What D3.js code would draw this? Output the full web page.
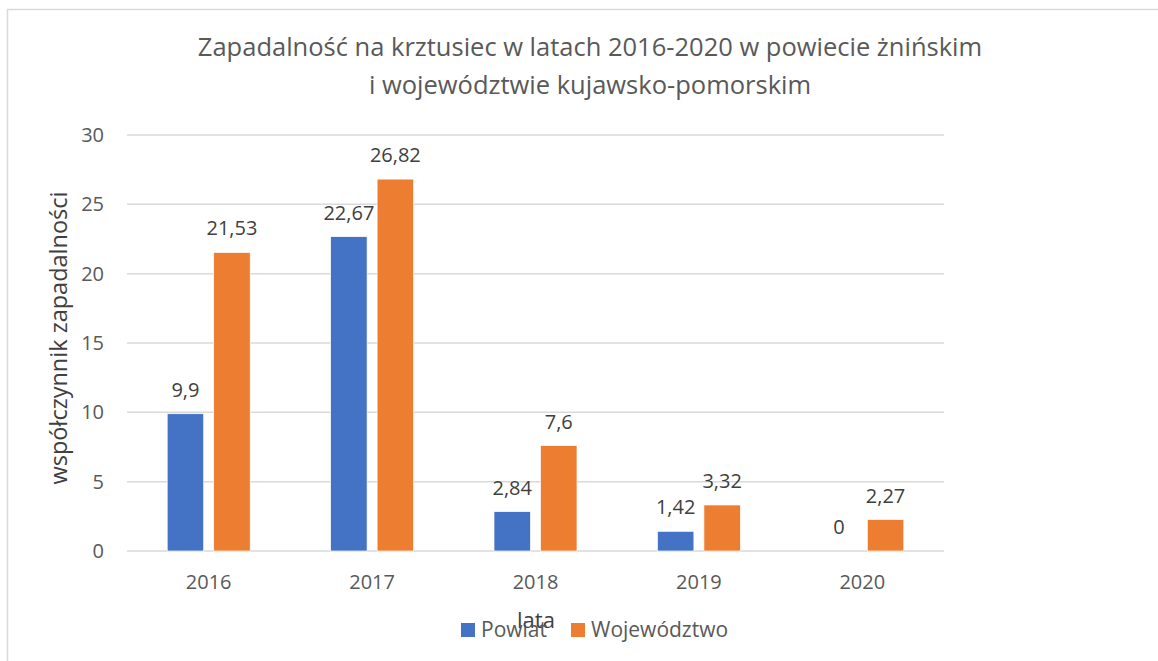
<!DOCTYPE html>
<html>
<head>
<meta charset="utf-8">
<script src="https://cdn.jsdelivr.net/npm/d3@7"></script>
<style>
    body { margin: 0; background: #fff; }
    text { font-family: "Open Sans", "Liberation Sans", sans-serif; }
</style>
</head>
<body>
<div id="chart"></div>
<script>
var years = ["2016", "2017", "2018", "2019", "2020"];
var seriesNames = ["Powiat", "Województwo"];
var powiat = [9.9, 22.67, 2.84, 1.42, 0];
var wojewodztwo = [21.53, 26.82, 7.6, 3.32, 2.27];
var yTicks = [0, 5, 10, 15, 20, 25, 30];
var colors = ["#4472C4", "#ED7D31"];

(() => {
    var width = 1158;
    var height = 661;
    var margin = { top: 135, right: 214, bottom: 110, left: 127 };

    var svg = d3.select("#chart")
        .append("svg")
        .attr("width", width)
        .attr("height", height);

    svg.append("rect")
        .attr("width", width)
        .attr("height", height)
        .attr("fill", "#fff");

    // chart frame (only top and left are visible)
    svg.append("path")
        .attr("d", "M7.5," + height + "V9.5H" + width)
        .attr("fill", "none")
        .attr("stroke", "#d9d9d9")
        .attr("stroke-width", 1.5);

    var data = years.map(function (y, i) {
        return { year: y, values: [powiat[i], wojewodztwo[i]] };
    });

    var xScale = d3.scaleBand()
        .domain(years)
        .range([margin.left, width - margin.right])
        .paddingInner(0.492)
        .paddingOuter(0.246);

    var xSub = d3.scaleBand()
        .domain(seriesNames)
        .range([0, xScale.bandwidth()])
        .paddingInner(0.215);

    var yScale = d3.scaleLinear()
        .domain([0, 30])
        .range([height - margin.bottom, margin.top]);

    // gridlines
    svg.append("g")
        .selectAll("line")
        .data(yTicks)
        .join("line")
        .attr("x1", margin.left)
        .attr("x2", width - margin.right)
        .attr("y1", function (d) { return yScale(d); })
        .attr("y2", function (d) { return yScale(d); })
        .attr("stroke", "#d9d9d9")
        .attr("stroke-width", 1.5);

    // y tick labels
    svg.append("g")
        .selectAll("text")
        .data(yTicks)
        .join("text")
        .attr("x", 104)
        .attr("y", function (d) { return yScale(d) + 7; })
        .attr("text-anchor", "end")
        .attr("font-size", "20px")
        .attr("fill", "#595959")
        .text(function (d) { return d; });

    // bars
    var groups = svg.append("g")
        .selectAll("g")
        .data(data)
        .join("g")
        .attr("transform", function (d) { return "translate(" + xScale(d.year) + ",0)"; });

    groups.selectAll("rect")
        .data(function (d) { return d.values; })
        .join("rect")
        .attr("x", function (d, i) { return xSub(seriesNames[i]); })
        .attr("y", function (d) { return yScale(d); })
        .attr("width", xSub.bandwidth())
        .attr("height", function (d) { return yScale(0) - yScale(d); })
        .attr("fill", function (d, i) { return colors[i]; })
        .attr("stroke", "#fff")
        .attr("stroke-width", 0.7);

    // data labels
    groups.selectAll("text")
        .data(function (d) { return d.values; })
        .join("text")
        .attr("x", function (d, i) { return xSub(seriesNames[i]) + xSub.bandwidth() / 2; })
        .attr("y", function (d) { return yScale(d) - 17; })
        .attr("text-anchor", "middle")
        .attr("font-size", "20px")
        .attr("fill", "#404040")
        .text(function (d) { return String(d).replace(".", ","); });

    // category labels
    svg.append("g")
        .selectAll("text")
        .data(years)
        .join("text")
        .attr("x", function (d) { return xScale(d) + xScale.bandwidth() / 2; })
        .attr("y", yScale(0) + 38)
        .attr("text-anchor", "middle")
        .attr("font-size", "20px")
        .attr("fill", "#595959")
        .text(function (d) { return d; });

    // title
    var title = svg.append("text")
        .attr("text-anchor", "middle")
        .attr("font-size", "25.5px")
        .attr("fill", "#595959");
    title.append("tspan")
        .attr("x", 590)
        .attr("y", 56)
        .text("Zapadalność na krztusiec w latach 2016-2020 w powiecie żnińskim");
    title.append("tspan")
        .attr("x", 590)
        .attr("y", 94)
        .text("i województwie kujawsko-pomorskim");

    // axis titles
    svg.append("text")
        .attr("transform", "translate(67,338) rotate(-90)")
        .attr("text-anchor", "middle")
        .attr("font-size", "23.5px")
        .attr("fill", "#404040")
        .text("współczynnik zapadalności");

    svg.append("text")
        .attr("x", 536)
        .attr("y", 628)
        .attr("text-anchor", "middle")
        .attr("font-size", "22px")
        .attr("fill", "#404040")
        .text("lata");

    // legend
    var legend = svg.append("g")
        .selectAll("g")
        .data(seriesNames)
        .join("g")
        .attr("transform", function (d, i) { return "translate(" + (i === 0 ? 461 : 571) + ",623)"; });

    legend.append("rect")
        .attr("width", 14)
        .attr("height", 14)
        .attr("fill", function (d, i) { return colors[i]; });

    legend.append("text")
        .attr("x", 20)
        .attr("y", 14)
        .attr("font-size", "21px")
        .attr("fill", "#595959")
        .text(function (d) { return d; });
})();
</script>
</body>
</html>
